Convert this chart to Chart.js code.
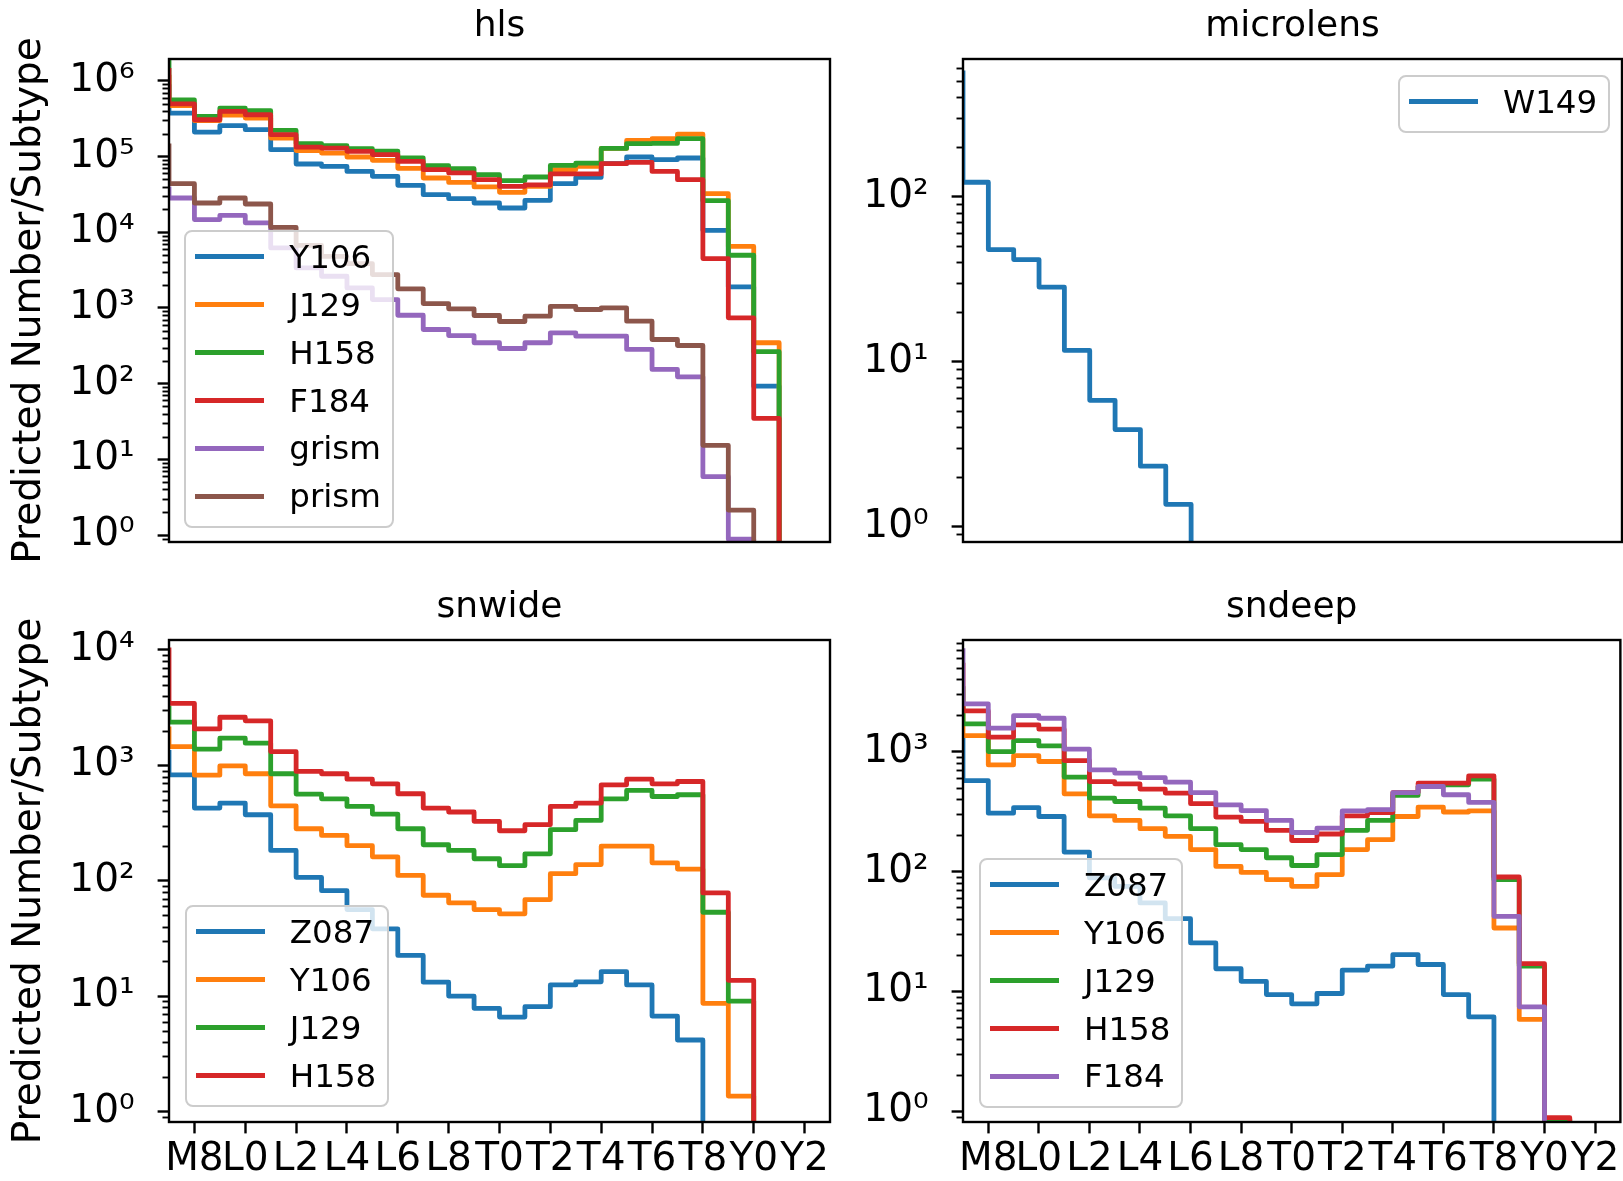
<!DOCTYPE html>
<html>
<head>
<meta charset="utf-8">
<script src="https://cdn.jsdelivr.net/npm/chart.js@4.4.1/dist/chart.umd.min.js"></script>
<style>
html,body{margin:0;padding:0;background:#fff;overflow:hidden;width:1623px;height:1181px;}
#page{position:relative;width:1623px;height:1181px;font-family:'DejaVu Sans';}
.panel{position:absolute;}
.leg{position:absolute;box-sizing:border-box;border:2.4px solid #cccccc;border-radius:8px;background:rgba(255,255,255,0.8);padding:0.6px 11px 5.4px 9px;font-family:'DejaVu Sans';font-size:32.5px;color:#000;}
.leg .row{height:47.9px;display:flex;align-items:center;white-space:nowrap;}
.leg .sw{display:inline-block;width:69px;height:4.8px;margin-right:25px;flex:none;}
</style>
</head>
<body>
<div id="page"></div>
<script>
// ---------------- data ----------------
// spectral subtypes; each value is the level of the step that ends at that subtype
const subtypes = ['M7','M8','M9','L0','L1','L2','L3','L4','L5','L6','L7','L8','L9',
                  'T0','T1','T2','T3','T4','T5','T6','T7','T8','T9','Y0','Y1','Y2','Y3'];
const tickLabels = ['M8','L0','L2','L4','L6','L8','T0','T2','T4','T6','T8','Y0','Y2'];

// hls
const hls_Y106  = [9.0e5, 3.75e5, 2.10e5, 2.55e5, 2.26e5, 1.23e5, 7.96e4, 7.41e4, 6.36e4, 5.47e4, 4.16e4, 3.13e4, 2.77e4, 2.43e4, 2.09e4, 2.64e4, 4.38e4, 5.3e4, 8.04e4, 9.85e4, 9.07e4, 9.55e4, 1.06e4, 1.9e3, 92.7, 0];
const hls_J129  = [1.2e6, 4.7e5, 2.97e5, 3.53e5, 3.22e5, 1.75e5, 1.20e5, 1.11e5, 9.85e4, 8.89e4, 6.97e4, 5.2e4, 4.55e4, 3.96e4, 3.36e4, 4.03e4, 6.7e4, 7.41e4, 1.28e5, 1.63e5, 1.72e5, 1.98e5, 3.23e4, 6.5e3, 347, 0];
const hls_H158  = [1.9e6, 5.61e5, 3.38e5, 4.36e5, 4.02e5, 2.21e5, 1.48e5, 1.39e5, 1.27e5, 1.18e5, 9.6e4, 7.56e4, 6.9e4, 5.75e4, 4.8e4, 5.36e4, 7.64e4, 8.2e4, 1.28e5, 1.48e5, 1.49e5, 1.72e5, 2.61e4, 4.96e3, 264, 0];
const hls_F184  = [1.47e6, 4.97e5, 3.06e5, 3.94e5, 3.56e5, 1.94e5, 1.33e5, 1.29e5, 1.17e5, 1.06e5, 8.6e4, 6.7e4, 6.06e4, 4.94e4, 4.03e4, 4.21e4, 5.88e4, 5.88e4, 8.04e4, 8.36e4, 6.36e4, 4.94e4, 4.48e3, 740, 34.7, 0];
const hls_grism = [4.03e4, 2.83e4, 1.47e4, 1.67e4, 1.33e4, 6.2e3, 3.38e3, 2.62e3, 1.84e3, 1.29e3, 801, 519, 432, 347, 291, 347, 469, 424, 424, 283, 154, 123, 5.9, 0.88, 0];
const hls_prism = [1.49e5, 4.38e4, 2.43e4, 2.83e4, 2.36e4, 1.16e4, 6.7e3, 4.8e3, 3.85e3, 2.76e3, 1.79e3, 1.14e3, 973, 794, 662, 778, 1.05e3, 953, 1.0e3, 668, 383, 319, 15.3, 2.14, 0];

// microlens
const microlens_W149 = [580, 122, 47.7, 41.5, 28.3, 11.7, 5.84, 3.88, 2.33, 1.37, 0];

// snwide
const snwide_Z087 = [1360, 828, 426, 471, 373, 183, 107, 82, 56.2, 38.3, 22.5, 13.2, 10, 7.83, 6.58, 8.1, 12.5, 13.3, 16.3, 12.5, 6.71, 4.16, 0];
const snwide_Y106 = [2170, 1455, 822, 990, 845, 446, 282, 247, 201, 161, 111, 74.8, 64.3, 56.2, 51.6, 68.6, 115, 138, 199, 199, 143, 126, 8.65, 1.36, 0];
const snwide_J129 = [3300, 2365, 1380, 1720, 1556, 845, 564, 513, 440, 378, 282, 205, 183, 155, 135, 171, 277, 333, 513, 606, 537, 556, 53.3, 9.05, 0];
const snwide_H158 = [1.05e4, 3450, 2070, 2610, 2430, 1317, 885, 845, 759, 691, 567, 426, 394, 327, 271, 306, 440, 471, 678, 759, 691, 724, 78.4, 13.7, 0];

// sndeep
const sndeep_Z087 = [1300, 573, 306, 341, 287, 145, 88.1, 75, 54.5, 40.3, 25.3, 15.4, 12.1, 9.38, 7.85, 9.57, 15.0, 16.2, 20.2, 16.7, 9.38, 6.11, 0];
const sndeep_Y106 = [2400, 1360, 774, 926, 826, 444, 291, 266, 227, 196, 152, 110, 98.1, 85.3, 75, 93.8, 152, 184, 287, 344, 313, 320, 33.7, 5.81, 0];
const sndeep_J129 = [3500, 1701, 1000, 1235, 1115, 612, 408, 383, 337, 291, 227, 167, 152, 130, 112, 138, 220, 266, 430, 511, 528, 589, 85.3, 16.2, 0.85, 0];
const sndeep_H158 = [5500, 2185, 1318, 1668, 1537, 841, 562, 538, 486, 450, 367, 284, 261, 220, 181, 205, 291, 310, 455, 545, 545, 627, 89.8, 17.0, 0.88, 0];
const sndeep_F184 = [7270, 2500, 1567, 1995, 1897, 1047, 704, 661, 607, 556, 455, 359, 322, 266, 211, 230, 320, 327, 455, 511, 436, 376, 42.2, 7.41, 0];

// ---------------- styling ----------------
const C = {blue:'#1f77b4', orange:'#ff7f0e', green:'#2ca02c', red:'#d62728', purple:'#9467bd', brown:'#8c564b'};
const FONT = 'DejaVu Sans';
Chart.defaults.font.family = FONT;
Chart.defaults.color = '#000';
const SUP = {'-':'\u207B','0':'\u2070','1':'\u00B9','2':'\u00B2','3':'\u00B3','4':'\u2074','5':'\u2075','6':'\u2076','7':'\u2077','8':'\u2078','9':'\u2079'};
function supText(e){ return String(e).split('').map(c => SUP[c]).join(''); }

const mplDecor = {
  id: 'mplDecor',
  afterDatasetsDraw(chart) {
    const {ctx, chartArea: a} = chart;
    const y = chart.scales.y;
    ctx.save();
    ctx.strokeStyle = '#000';
    ctx.lineWidth = 1.9;
    const lo = Math.floor(Math.log10(y.min)), hi = Math.ceil(Math.log10(y.max));
    for (let e = lo; e <= hi; e++) {
      for (let k = 2; k <= 9; k++) {
        const v = k * Math.pow(10, e);
        if (v < y.min || v > y.max) continue;
        const py = Math.round(y.getPixelForValue(v)) + 0.5;
        ctx.beginPath(); ctx.moveTo(a.left - 6.5, py); ctx.lineTo(a.left, py); ctx.stroke();
      }
    }
    ctx.lineWidth = 2.4;
    ctx.strokeRect(a.left, a.top, a.right - a.left, a.bottom - a.top);
    ctx.restore();
  }
};

const page = document.getElementById('page');

function makePanel(p) {
  const holder = document.createElement('div');
  holder.className = 'panel';
  holder.style.left = p.left + 'px';
  holder.style.top = p.top + 'px';
  const cv = document.createElement('canvas');
  cv.width = p.width; cv.height = p.height;
  cv.style.width = p.width + 'px'; cv.style.height = p.height + 'px';
  holder.appendChild(cv);
  page.appendChild(holder);

  const datasets = p.series.map((s, i) => ({
    label: s.label,
    data: s.values.map((v, k) => ({x: k - 1, y: v > 0 ? v : 1e-3})),
    borderColor: s.color,
    backgroundColor: s.color,
    borderWidth: 4.8,
    pointRadius: 0,
    pointHoverRadius: 0,
    stepped: 'after',
    fill: false,
    clip: 0,
    borderJoinStyle: 'round',
    order: -i
  }));

  const tickGrid = {display: true, drawOnChartArea: false, drawTicks: true, tickLength: 11.4, tickWidth: 2.4, tickColor: '#000'};

  const chart = new Chart(cv, {
    type: 'line',
    data: {datasets},
    plugins: [mplDecor],
    options: {
      responsive: false,
      animation: false,
      events: [],
      layout: {padding: {left: 0, top: 0, right: p.padRight, bottom: p.padBottom}},
      plugins: {
        legend: {display: false},
        tooltip: {enabled: false},
        title: {
          display: true, text: p.title, fullSize: false, color: '#000',
          font: {family: FONT, size: 36, weight: 'normal'},
          padding: {top: p.titlePadTop, bottom: p.titleBlock - p.titlePadTop - 43.2}
        }
      },
      scales: {
        x: {
          type: 'linear', min: -1, max: 25,
          display: p.showX,
          afterBuildTicks: s => { s.ticks = tickLabels.map((_, k) => ({value: 2 * k})); },
          afterFit: s => { s.height = p.xHeight; },
          ticks: {autoSkip: false, maxRotation: 0, minRotation: 0, padding: 3.5, color: '#000',
                  font: {family: FONT, size: 39},
                  callback: v => { const i = Math.round(v / 2); return (v % 2 === 0 && tickLabels[i]) ? tickLabels[i] : ''; }},
          grid: tickGrid,
          border: {display: false}
        },
        y: {
          type: 'logarithmic', min: p.yMin, max: p.yMax, bounds: 'data',
          afterBuildTicks: s => {
            const t = [];
            for (let e = Math.ceil(Math.log10(p.yMin)); Math.pow(10, e) <= p.yMax; e++) t.push({value: Math.pow(10, e)});
            s.ticks = t;
          },
          afterFit: s => { s.width = p.yWidth; },
          ticks: {padding: 23, color: '#000', font: {family: FONT, size: 39},
                  callback: v => '10' + supText(Math.round(Math.log10(v)))},
          grid: tickGrid,
          border: {display: false},
          title: {display: p.showYLabel, text: 'Predicted Number/Subtype', color: '#000',
                  font: {family: FONT, size: 39}, padding: {top: 6.4, bottom: 0}}
        }
      }
    }
  });

  // HTML legend built from the datasets
  const a = chart.chartArea;
  const leg = document.createElement('div');
  leg.className = 'leg';
  chart.data.datasets.forEach(ds => {
    const row = document.createElement('div');
    row.className = 'row';
    const sw = document.createElement('span');
    sw.className = 'sw';
    sw.style.background = ds.borderColor;
    const lab = document.createElement('span');
    lab.textContent = ds.label;
    row.appendChild(sw); row.appendChild(lab);
    leg.appendChild(row);
  });
  page.appendChild(leg);
  const L = p.legend;
  if (L.corner === 'lower left') {
    leg.style.left = (p.left + a.left + L.dx) + 'px';
    leg.style.top = (p.top + a.bottom - L.dy - leg.offsetHeight) + 'px';
  } else {
    leg.style.left = (p.left + a.right - L.dx - leg.offsetWidth) + 'px';
    leg.style.top = (p.top + a.top + L.dy) + 'px';
  }
  return chart;
}

makePanel({
  title: 'hls', left: 0, top: 0, width: 840, height: 602, padRight: 10, padBottom: 60,
  titleBlock: 59, titlePadTop: 5.4, showX: false, xHeight: 0, showYLabel: true, yWidth: 169,
  yMin: 0.81, yMax: 1.94e6,
  series: [
    {label: 'Y106', values: hls_Y106, color: C.blue},
    {label: 'J129', values: hls_J129, color: C.orange},
    {label: 'H158', values: hls_H158, color: C.green},
    {label: 'F184', values: hls_F184, color: C.red},
    {label: 'grism', values: hls_grism, color: C.purple},
    {label: 'prism', values: hls_prism, color: C.brown}
  ],
  legend: {corner: 'lower left', dx: 15.3, dy: 14.7}
});

makePanel({
  title: 'microlens', left: 840, top: 0, width: 783, height: 602, padRight: 1, padBottom: 60,
  titleBlock: 59, titlePadTop: 5.4, showX: false, xHeight: 0, showYLabel: false, yWidth: 123,
  yMin: 0.81, yMax: 680,
  series: [
    {label: 'W149', values: microlens_W149, color: C.blue}
  ],
  legend: {corner: 'upper right', dx: 12, dy: 16}
});

makePanel({
  title: 'snwide', left: 0, top: 580, width: 840, height: 601, padRight: 10, padBottom: 0,
  titleBlock: 60, titlePadTop: 6.4, showX: true, xHeight: 59, showYLabel: true, yWidth: 169,
  yMin: 0.81, yMax: 1.22e4,
  series: [
    {label: 'Z087', values: snwide_Z087, color: C.blue},
    {label: 'Y106', values: snwide_Y106, color: C.orange},
    {label: 'J129', values: snwide_J129, color: C.green},
    {label: 'H158', values: snwide_H158, color: C.red}
  ],
  legend: {corner: 'lower left', dx: 15.8, dy: 14.7}
});

makePanel({
  title: 'sndeep', left: 840, top: 580, width: 783, height: 601, padRight: 1, padBottom: 0,
  titleBlock: 60, titlePadTop: 6.4, showX: true, xHeight: 59, showYLabel: false, yWidth: 123,
  yMin: 0.81, yMax: 8530,
  series: [
    {label: 'Z087', values: sndeep_Z087, color: C.blue},
    {label: 'Y106', values: sndeep_Y106, color: C.orange},
    {label: 'J129', values: sndeep_J129, color: C.green},
    {label: 'H158', values: sndeep_H158, color: C.red},
    {label: 'F184', values: sndeep_F184, color: C.purple}
  ],
  legend: {corner: 'lower left', dx: 16, dy: 14.7}
});
</script>
</body>
</html>
